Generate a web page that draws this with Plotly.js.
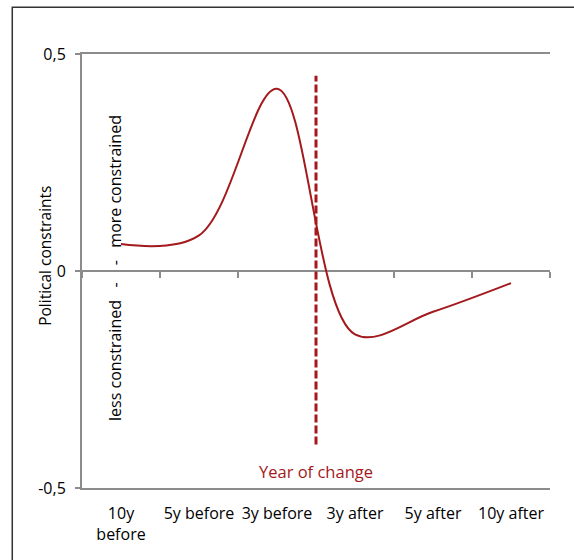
<!DOCTYPE html>
<html>
<head>
<meta charset="utf-8">
<script src="https://cdn.plot.ly/plotly-3.0.1.min.js"></script>
<style>
html,body{margin:0;padding:0;background:#fff;}
#chart{width:574px;height:560px;}
</style>
</head>
<body>
<div id="chart"></div>
<script>
var categories = ["10y<br>before", "5y before", "3y before", "3y after", "5y after", "10y after"];
var constraints = [0.062, 0.082, 0.42, -0.146, -0.094, -0.028];
var yTickVals = [-0.5, 0, 0.5];
var yTickText = ["-0,5", "0", "0,5"];
var changePosition = 2.5;
var changeRange = [-0.40, 0.45];

var FONT = "Open Sans, Noto Sans, sans-serif";
var RED = "#a3191c";
var GRID = "#8c8c8c";

var traces = [
  {
    type: "scatter",
    mode: "lines",
    x: categories,
    y: constraints,
    line: {color: RED, width: 2, shape: "spline", smoothing: 1},
    hoverinfo: "skip",
    showlegend: false
  },
  {
    type: "scatter",
    mode: "lines",
    x: categories,
    y: constraints,
    xaxis: "x2",
    line: {width: 0},
    opacity: 0,
    hoverinfo: "skip",
    showlegend: false
  }
];

var layout = {
  width: 574,
  height: 560,
  margin: {l: 82, r: 24, t: 54, b: 72},
  paper_bgcolor: "#ffffff",
  plot_bgcolor: "#ffffff",
  font: {family: FONT, size: 16, color: "#000"},
  showlegend: false,
  xaxis: {
    type: "category",
    ticks: "",
    showgrid: false,
    showline: true,
    mirror: true,
    linecolor: GRID,
    linewidth: 2,
    zeroline: false,
    range: [-0.5, 5.5],
    ticklabelstandoff: 10,
    tickfont: {family: FONT, size: 16, color: "#000"},
    fixedrange: true
  },
  xaxis2: {
    type: "category",
    overlaying: "x",
    anchor: "free",
    position: 0.5,
    side: "bottom",
    tickson: "boundaries",
    ticks: "outside",
    ticklen: 6,
    tickwidth: 2,
    tickcolor: GRID,
    showticklabels: false,
    showgrid: false,
    showline: false,
    zeroline: false,
    range: [-0.5, 5.5],
    fixedrange: true
  },
  yaxis: {
    range: [-0.5, 0.5],
    tickvals: yTickVals,
    ticktext: yTickText,
    ticks: "outside",
    ticklen: 5,
    tickwidth: 2,
    tickcolor: GRID,
    showline: true,
    linecolor: GRID,
    linewidth: 2,
    showgrid: false,
    zeroline: true,
    zerolinecolor: GRID,
    zerolinewidth: 2,
    ticklabelstandoff: 6,
    tickfont: {family: FONT, size: 16, color: "#000"},
    fixedrange: true
  },
  shapes: [
    {
      type: "line", xref: "x", yref: "y",
      x0: changePosition, x1: changePosition,
      y0: changeRange[0], y1: changeRange[1],
      line: {color: RED, width: 3, dash: "8px,3px"}
    },
    {
      type: "rect", xref: "paper", yref: "paper",
      x0: -0.149, x1: 1.2, y0: -0.3, y1: 1.108,
      line: {color: "#333", width: 1.5},
      fillcolor: "rgba(0,0,0,0)"
    }
  ],
  annotations: [
    {
      text: "Year of change", xref: "x", yref: "y",
      x: changePosition, y: -0.462, showarrow: false,
      font: {family: FONT, size: 16.5, color: RED}
    },
    {
      text: "Political constraints", xref: "paper", yref: "paper",
      x: -0.079, y: 0.535, textangle: -90, showarrow: false,
      xanchor: "center", yanchor: "middle",
      font: {family: FONT, size: 15.5, color: "#000"}
    },
    {
      text: "-   more constrained", xref: "paper", yref: "y",
      x: 0.07, y: 0.008, textangle: -90, showarrow: false,
      xanchor: "center", yanchor: "bottom",
      font: {family: FONT, size: 16, color: "#000"}
    },
    {
      text: "less constrained   -", xref: "paper", yref: "y",
      x: 0.07, y: -0.02, textangle: -90, showarrow: false,
      xanchor: "center", yanchor: "top",
      font: {family: FONT, size: 16, color: "#000"}
    }
  ]
};

Plotly.newPlot("chart", traces, layout, {displayModeBar: false, staticPlot: true});
</script>
</body>
</html>
